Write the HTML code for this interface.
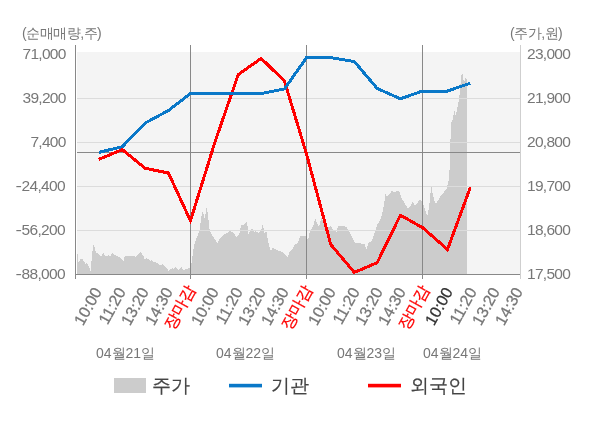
<!DOCTYPE html>
<html><head><meta charset="utf-8">
<style>
html,body{margin:0;padding:0;background:#fff;}
body{width:600px;height:428px;position:relative;overflow:hidden;will-change:transform;font-family:"Liberation Sans",sans-serif;color:#777;}
svg{position:absolute;left:0;top:0;}
.t{position:absolute;white-space:nowrap;font-size:14px;line-height:16px;}
.yl{position:absolute;white-space:nowrap;font-size:15.5px;line-height:16px;letter-spacing:-0.7px;}
.yl.l{right:534.3px;text-align:right;}
.yl.r{left:527px;}
.mn{display:inline-block;transform:scaleX(1.25);margin-right:1.2px;}
.xl{position:absolute;top:281px;white-space:nowrap;font-size:16px;line-height:16px;transform-origin:100% 50%;transform:rotate(-61deg);}
.xl{-webkit-text-stroke:0.25px currentColor;}
.xl.red{color:#f00;transform:translate(-0.5px,-2.5px) rotate(-61deg);}
.xl.dark{color:#333;}
.dl{position:absolute;top:345px;font-size:14px;line-height:16px;white-space:nowrap;}
.lg{position:absolute;top:376px;font-size:19px;line-height:20px;color:#444;white-space:nowrap;-webkit-text-stroke:0.2px currentColor;}
</style></head><body>
<svg width="600" height="428" viewBox="0 0 600 428" shape-rendering="crispEdges">
<rect x="77" y="52" width="443" height="222" fill="#f4f4f4"/>
<path d="M77,274 L77,254.2 L78,254.2 L78.2,261.7 L78.9,262.3 L80.8,258.2 L81.9,258.8 L83.5,260.6 L85.7,263.9 L86.8,263.3 L88.9,266.6 L90.5,270.6 L92.1,255.8 L93.2,244 L94.3,246.1 L95.9,252.6 L97.5,253.1 L98.6,253.7 L99.7,255.8 L101.3,256.3 L103.4,253.1 L105,255.3 L106.1,256.3 L108.3,255.3 L110.4,255.8 L112.6,253.1 L114.7,254.7 L116.9,255.8 L119,256.9 L121.2,258 L123.3,261.7 L124.9,255.3 L126.5,256.3 L129.8,256.3 L131.9,255.8 L134,256.3 L135.6,256.9 L137.8,254.2 L140.5,252 L142.1,254.2 L143.7,256.3 L144.8,259.6 L146.4,258.2 L148,259 L150.1,261 L151.7,260.3 L153.4,261.9 L156,262.3 L158.2,263.3 L159.8,265.5 L162.5,264.4 L164.6,266 L166.8,268.2 L168.4,270.9 L170,269.2 L172.2,268.2 L173.8,269 L175.4,266.6 L177,268.7 L178.1,270 L181.3,267.1 L183.5,269.8 L185.6,269.2 L188.8,268.2 L190.7,268.4 L191.9,260.4 L193.3,249.7 L195.1,241.7 L197.8,235.5 L199.5,230.2 L200.8,221.3 L202.2,210.7 L203.5,214.2 L204.3,219.5 L205.8,212.4 L206.6,207.1 L207.9,214.2 L209.3,228.4 L211.1,233.7 L213.8,237.3 L217.3,243.5 L220,238.2 L223.5,234.6 L227.1,232.9 L229.7,231.1 L233.3,232.9 L236.8,237.3 L239.5,232.9 L241.3,224.9 L244,224.9 L246.6,222.2 L247.4,224.9 L248.7,235.5 L249.6,231.1 L252.2,228.1 L254,232 L255.8,231.1 L258.4,232.9 L260.2,232 L261.6,228.4 L262.9,224 L263.8,229.3 L264.6,232.9 L266.4,231.1 L267.7,239.1 L269.1,246.2 L270.9,251.5 L272.6,248 L275.3,248.8 L278,250.6 L281.5,251.5 L284.2,253.3 L287.7,256.8 L289.5,252.4 L292.2,249.7 L294.8,244.4 L297.5,243.5 L300.2,236.4 L305.6,235.9 L306.5,236 L308,240.5 L309.4,233.1 L310.3,230.3 L313.1,226.5 L314,222.3 L315.4,219 L316.8,222.8 L318.2,225.6 L319.2,226 L320.6,220.4 L321.5,218.1 L322.9,220.4 L324.3,223.7 L328.1,227.5 L329.5,227 L330.9,226 L331.8,227.5 L332.7,229.8 L335.1,230.3 L336,232.1 L337,231.2 L337.9,226.5 L339.3,226 L344,225.8 L346.6,227.5 L348.4,230.2 L350.2,232.9 L352.8,239.1 L354.6,242.6 L357.3,243.5 L360,242.6 L362.6,244.4 L364.5,244.3 L366.5,249.2 L368.2,243 L370.7,241.8 L372.4,239.3 L373.9,234.4 L375.6,229.4 L377.3,224.5 L379.3,222 L381.3,217 L383,209.6 L384.3,202.2 L385.5,193.5 L386.8,197.2 L389.2,194.8 L391.7,191 L394.2,192.3 L396.7,191 L399.1,191 L401.1,197.2 L404.1,202.2 L407.8,208.4 L410.3,205.9 L412.7,202.2 L415.2,205.9 L418.9,200.9 L420.5,199.7 L422.5,202.2 L424.2,207.1 L425.9,212.1 L427.4,215.8 L429.1,207.1 L430.4,194.8 L431.1,182.4 L432.4,192.3 L434.1,199.7 L435.8,203.4 L437.8,201 L440.3,196 L442.8,193.5 L446.5,188.6 L447.7,184.9 L448.9,179.9 L449.5,170 L450,155 L451,123.5 L452.6,119.3 L454.4,110.2 L455.4,115.1 L456.8,110.9 L458.2,103.9 L459.6,94 L460.3,85.6 L461,80 L461.6,74.4 L462.6,74.4 L463.2,78.6 L463.8,81.4 L465,80 L465.7,77.9 L466.6,79.3 L467,79.3 L467,274 Z" fill="#cccccc"/>
<g stroke="#dcdcdc" stroke-width="1">
<line x1="77" y1="98.5" x2="520" y2="98.5"/>
<line x1="77" y1="142.5" x2="520" y2="142.5"/>
<line x1="77" y1="186.5" x2="520" y2="186.5"/>
<line x1="77" y1="230.5" x2="520" y2="230.5"/>
</g>
<line x1="520.5" y1="45" x2="520.5" y2="279" stroke="#cfcfcf"/>
<line x1="77" y1="152.5" x2="520" y2="152.5" stroke="#888"/>
<g stroke="#888" stroke-width="1">
<line x1="75.5" y1="45" x2="75.5" y2="279"/>
<line x1="190.5" y1="45" x2="190.5" y2="279"/>
<line x1="306.5" y1="45" x2="306.5" y2="279"/>
<line x1="422.5" y1="45" x2="422.5" y2="279"/>
<line x1="75" y1="274.5" x2="520" y2="274.5"/>
</g>
<polyline points="98.8,159.4 122.3,149.6 145.2,168.3 168.4,173 190.5,220.7 214.8,142.5 238.3,74.5 261.2,58.4 284.4,81 306.5,154 330.8,244.6 354.3,272.4 377.2,262.6 400.4,215.2 422.5,227.6 447.5,249.5 470.3,187.4" fill="none" stroke="#ff0000" stroke-width="3" stroke-linejoin="miter"/>
<polyline points="98.8,152.4 122.3,146.7 145.2,123 168.4,110.5 190.5,93.5 214.8,93.5 238.3,93.5 261.2,93.5 284.4,89 306.5,57.7 330.8,57.7 354.3,61.5 377.2,88.5 400.4,98.8 422.5,91 447.5,91 470.3,83.2" fill="none" stroke="#0a78c8" stroke-width="3" stroke-linejoin="miter"/>
<rect x="114" y="378" width="32" height="15" fill="#cccccc"/>
<rect x="229" y="383.8" width="33" height="3.6" fill="#0a78c8" shape-rendering="auto"/>
<rect x="368" y="383.8" width="33" height="3.6" fill="#ff0000" shape-rendering="auto"/>
</svg>
<div class="t" style="left:22px;top:25px;letter-spacing:-0.5px">(순매매량,주)</div>
<div class="t" style="left:510px;top:25px;letter-spacing:-0.5px">(주가,원)</div>
<div class="yl l" style="top:45.5px">71,000</div>
<div class="yl l" style="top:89.5px">39,200</div>
<div class="yl l" style="top:133.5px">7,400</div>
<div class="yl l" style="top:177.5px;right:535.2px"><span class="mn">-</span>24,400</div>
<div class="yl l" style="top:221.5px;right:535.2px"><span class="mn">-</span>56,200</div>
<div class="yl l" style="top:265.5px;right:535.2px"><span class="mn">-</span>88,000</div>
<div class="yl r" style="top:45.5px">23,000</div>
<div class="yl r" style="top:89.5px">21,900</div>
<div class="yl r" style="top:133.5px">20,800</div>
<div class="yl r" style="top:177.5px">19,700</div>
<div class="yl r" style="top:221.5px">18,600</div>
<div class="yl r" style="top:265.5px">17,500</div>
<div class="xl" style="right:501.6px">10:00</div>
<div class="xl" style="right:478.2px">11:20</div>
<div class="xl" style="right:454.8px">13:20</div>
<div class="xl" style="right:431.4px">14:30</div>
<div class="xl red" style="right:408.0px">장마감</div>
<div class="xl" style="right:384.6px">10:00</div>
<div class="xl" style="right:361.3px">11:20</div>
<div class="xl" style="right:337.9px">13:20</div>
<div class="xl" style="right:314.5px">14:30</div>
<div class="xl red" style="right:291.1px">장마감</div>
<div class="xl" style="right:267.7px">10:00</div>
<div class="xl" style="right:244.3px">11:20</div>
<div class="xl" style="right:220.9px">13:20</div>
<div class="xl" style="right:197.5px">14:30</div>
<div class="xl red" style="right:174.1px">장마감</div>
<div class="xl dark" style="right:150.8px">10:00</div>
<div class="xl" style="right:127.4px">11:20</div>
<div class="xl" style="right:104.0px">13:20</div>
<div class="xl" style="right:80.6px">14:30</div>
<div class="dl" style="left:96px">04월21일</div>
<div class="dl" style="left:216px">04월22일</div>
<div class="dl" style="left:337px">04월23일</div>
<div class="dl" style="left:423px">04월24일</div>
<div class="lg" style="left:152px">주가</div>
<div class="lg" style="left:271px">기관</div>
<div class="lg" style="left:410px">외국인</div>
</body></html>
